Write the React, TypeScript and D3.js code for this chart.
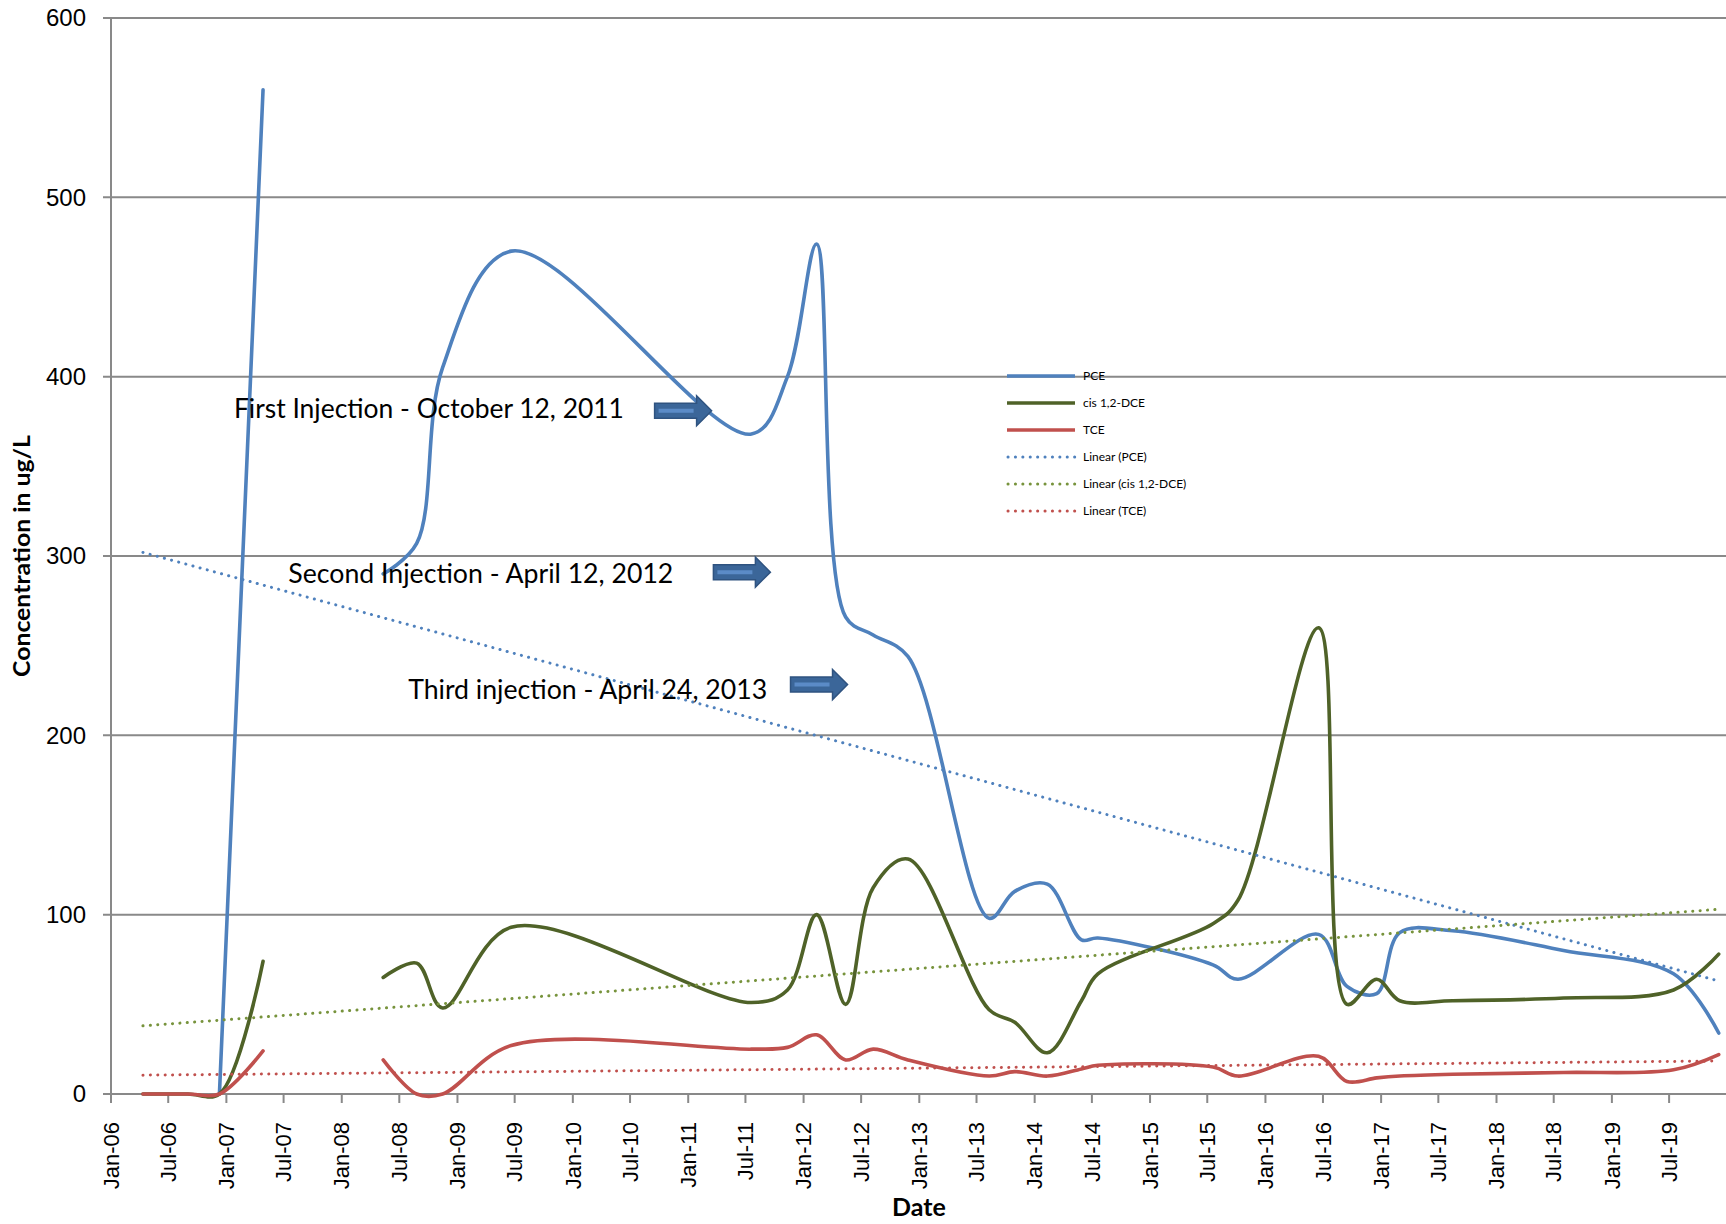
import React from "react";
import * as d3 from "d3";

// sampling dates (null row = gap in monitoring)
const sampleDates = [
  "2006-04-12", "2006-09-01", "2006-12-10", "2007-04-27", "2007-11-01",
  "2008-05-11", "2008-08-25", "2008-11-15", "2009-06-20", "2011-07-20",
  "2011-11-11", "2012-02-11", "2012-05-13", "2012-08-08", "2012-11-26",
  "2013-08-10", "2013-10-30", "2014-02-10", "2014-05-29", "2014-07-20",
  "2015-07-19", "2015-10-06", "2016-06-17", "2016-09-15", "2016-12-18",
  "2017-03-01", "2017-08-15", "2018-08-01", "2019-07-15", "2019-12-05",
];

const pce = [
  null, null, 0, 560, null,
  290, 307, 405, 470, 368,
  400, 474, 266, 256, 244,
  98, 113, 117, 86, 87,
  72, 64, 89, 60, 56,
  90, 91, 80, 67, 34,
];
const cisDce = [
  0, 0, 0, 74, null,
  65, 73, 48, 93, 51,
  58, 100, 50, 115, 131,
  47, 40, 23, 52, 67,
  95, 108, 260, 50, 64,
  52, 52, 53.5, 58, 78,
];
const tce = [
  0, 0, 0, 24, null,
  19, 0, 0, 27, 25,
  26, 33, 19, 25, 19,
  10, 12.5, 10, 14, 16,
  15, 10, 21, 7, 9,
  10, 11, 12, 13.5, 22,
];

// linear trendlines read at first / last sample date
const trendDates = ["2006-04-12", "2019-12-05"];
const pceTrend = [302, 63];
const cisTrend = [38, 103];
const tceTrend = [10.5, 18.4];

const seriesNames = ["PCE", "cis 1,2-DCE", "TCE"];
const trendNames = ["Linear (PCE)", "Linear (cis 1,2-DCE)", "Linear (TCE)"];
const seriesColors = ["#4F81BD", "#4F6228", "#C0504D"];
const trendColors = ["#4F81BD", "#77933C", "#C0504D"];

const yTicks = [0, 100, 200, 300, 400, 500, 600];

// annotation text anchor and arrow tip, in chart units
const notes = [
  { text: "First Injection - October 12, 2011", date: "2007-01-25", value: 377, tipDate: "2011-03-16", tipValue: 381, w: 390 },
  { text: "Second Injection - April 12, 2012", date: "2007-07-16", value: 285, tipDate: "2011-09-18", tipValue: 291, w: 385 },
  { text: "Third injection - April 24, 2013", date: "2008-07-29", value: 220, tipDate: "2012-05-19", tipValue: 228.3, w: 359 },
];

const parse = d3.timeParse("%Y-%m-%d");

const App = () => {
  const width = 1726;
  const height = 1224;
  const margin = { top: 18, right: 0, bottom: 130, left: 111 };

  const x = d3
    .scaleTime()
    .domain([new Date(2006, 0, 1), new Date(2019, 11, 28)])
    .range([margin.left, width - margin.right]);

  const y = d3
    .scaleLinear()
    .domain([0, 600])
    .range([height - margin.bottom, margin.top]);

  const x0 = margin.left;
  const y0 = y(0);

  const line = d3
    .line<{ d: Date; v: number | null }>()
    .defined((p) => p.v != null)
    .x((p) => x(p.d))
    .y((p) => y(p.v as number))
    .curve(d3.curveCatmullRom.alpha(0.5));

  const rows = (vals: (number | null)[]) =>
    sampleDates.map((s, i) => ({ d: parse(s) as Date, v: vals[i] }));

  const trendRows = (vals: number[]) =>
    trendDates.map((s, i) => ({ d: parse(s) as Date, v: vals[i] }));

  const straight = d3
    .line<{ d: Date; v: number | null }>()
    .x((p) => x(p.d))
    .y((p) => y(p.v as number));

  const xTicks = x.ticks(d3.timeMonth.every(6) as d3.TimeInterval).filter((t) => x(t) < width - 20);
  const fmt = d3.timeFormat("%b-%y");

  const grid = "#898989";
  const dots = "0.1 7.3";

  const arrow = (tx: number, cy: number) => {
    const len = 57, head = 15, bh = 7.5, hh = 15;
    const sx = tx - len, hx = tx - head;
    return `M${sx},${cy - bh}L${hx},${cy - bh}L${hx},${cy - hh}L${tx},${cy}L${hx},${cy + hh}L${hx},${cy + bh}L${sx},${cy + bh}Z`;
  };

  const legendX = 1007;
  const legendY = 376;
  const legendStep = 27;

  return (
    <svg width={width} height={height} style={{ position: "absolute", left: 0, top: 0, background: "#fff" }}>
      {/* gridlines + y ticks */}
      {yTicks.map((t) => (
        <g key={t}>
          <line x1={x0 - 8} x2={width} y1={y(t)} y2={y(t)} stroke={grid} strokeWidth={2} />
          <text
            x={86}
            y={y(t)}
            dy="0.35em"
            textAnchor="end"
            fontFamily="Liberation Sans, Arial, sans-serif"
            fontSize={24}
            fill="#000"
          >
            {t}
          </text>
        </g>
      ))}
      {/* y axis */}
      <line x1={x0} x2={x0} y1={y(600)} y2={y0} stroke={grid} strokeWidth={2} />
      {/* x ticks */}
      {xTicks.map((t) => (
        <g key={t.getTime()}>
          <line x1={x(t)} x2={x(t)} y1={y0} y2={y0 + 9} stroke={grid} strokeWidth={2} />
          <text
            transform={`translate(${x(t)},${y0 + 28}) rotate(-90)`}
            dy="0.35em"
            textAnchor="end"
            fontFamily="Liberation Sans, Arial, sans-serif"
            fontSize={22}
            fill="#000"
          >
            {fmt(t)}
          </text>
        </g>
      ))}

      {/* series */}
      {[pce, cisDce, tce].map((vals, i) => (
        <path
          key={seriesNames[i]}
          d={line(rows(vals)) || ""}
          fill="none"
          stroke={seriesColors[i]}
          strokeWidth={3.6}
          strokeLinejoin="round"
          strokeLinecap="round"
        />
      ))}

      {/* trendlines */}
      {[pceTrend, cisTrend, tceTrend].map((vals, i) => (
        <path
          key={trendNames[i]}
          d={straight(trendRows(vals)) || ""}
          fill="none"
          stroke={trendColors[i]}
          strokeWidth={3}
          strokeDasharray={dots}
          strokeLinecap="round"
        />
      ))}

      {/* annotations */}
      {notes.map((n) => {
        const tx = x(parse(n.tipDate) as Date);
        const ty = y(n.tipValue);
        return (
          <g key={n.text}>
            <text
              x={x(parse(n.date) as Date)}
              y={y(n.value)}
              fontFamily="Lato, Carlito, sans-serif"
              fontSize={26}
              textLength={n.w}
              lengthAdjust="spacingAndGlyphs"
              fill="#000"
            >
              {n.text}
            </text>
            <path d={arrow(tx, ty)} fill="#3B6699" stroke="#2F5380" strokeWidth={1.5} />
            <line x1={tx - 53} x2={tx - 18} y1={ty} y2={ty} stroke="#5B8BC7" strokeWidth={4} />
          </g>
        );
      })}

      {/* legend */}
      {seriesNames.map((name, i) => (
        <g key={name} transform={`translate(${legendX},${legendY + i * legendStep})`}>
          <line x1={0} x2={68} y1={0} y2={0} stroke={seriesColors[i]} strokeWidth={3.6} />
          <text x={76} y={0} dy="0.35em" fontFamily="Lato, sans-serif" fontSize={12} fill="#000">
            {name}
          </text>
        </g>
      ))}
      {trendNames.map((name, i) => (
        <g key={name} transform={`translate(${legendX},${legendY + (i + 3) * legendStep})`}>
          <line
            x1={1}
            x2={68}
            y1={0}
            y2={0}
            stroke={trendColors[i]}
            strokeWidth={3}
            strokeDasharray={dots}
            strokeLinecap="round"
          />
          <text x={76} y={0} dy="0.35em" fontFamily="Lato, sans-serif" fontSize={12} fill="#000">
            {name}
          </text>
        </g>
      ))}

      {/* axis titles */}
      <text
        transform={`translate(30,556) rotate(-90)`}
        textAnchor="middle"
        fontFamily="Lato, sans-serif"
        fontWeight="bold"
        fontSize={23}
        textLength={242}
        lengthAdjust="spacingAndGlyphs"
        fill="#000"
      >
        Concentration in ug/L
      </text>
      <text
        x={919}
        y={1216}
        textAnchor="middle"
        fontFamily="Lato, sans-serif"
        fontWeight="bold"
        fontSize={25}
        fill="#000"
      >
        Date
      </text>
    </svg>
  );
};

export default App;
